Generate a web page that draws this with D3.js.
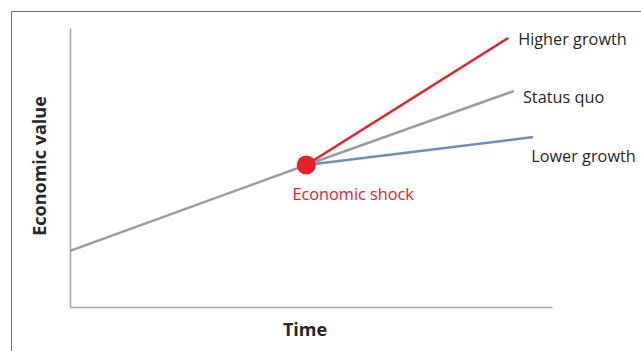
<!DOCTYPE html>
<html>
<head>
<meta charset="utf-8">
<script src="https://cdn.jsdelivr.net/npm/d3@7"></script>
<style>
  html, body { margin: 0; padding: 0; background: #fff; }
  svg { display: block; }
  text { font-family: "Open Sans", "Liberation Sans", sans-serif; }
</style>
</head>
<body>
<svg id="chart" width="641" height="351"></svg>
<script>
// Scenario paths: [time, economic value] on a 0–100 schematic scale
const statusQuo   = [[0, 20.1], [49, 50.9], [92.1, 77.4]];
const higherGrowth = [[49, 50.9], [90.9, 96.4]];
const lowerGrowth  = [[49, 50.9], [96.1, 60.9]];
const shockPoint   = [49, 50.9];

const seriesLabels = ["Higher growth", "Status quo", "Lower growth"];
const shockLabel   = "Economic shock";
const xTitle = "Time";
const yTitle = "Economic value";

const svg = d3.select("#chart");

// outer frame (top and left edges visible)
svg.append("path")
  .attr("d", "M11.5,351 V11.5 H641")
  .attr("fill", "none")
  .attr("stroke", "#6e6e6e")
  .attr("stroke-width", 1);

const x = d3.scaleLinear().domain([0, 100]).range([70, 552]);
const y = d3.scaleLinear().domain([0, 100]).range([307, 28]);

// axes without ticks
svg.append("g")
  .attr("transform", `translate(0,${y(0)})`)
  .call(d3.axisBottom(x).ticks(0).tickSize(0).tickSizeOuter(0))
  .call(g => g.select(".domain").attr("stroke", "#a9a9a9").attr("stroke-width", 1.6));

svg.append("g")
  .attr("transform", `translate(${x(0)},0)`)
  .call(d3.axisLeft(y).ticks(0).tickSize(0).tickSizeOuter(0))
  .call(g => g.select(".domain").attr("stroke", "#a9a9a9").attr("stroke-width", 1.6));

const line = d3.line().x(d => x(d[0])).y(d => y(d[1]));

svg.append("path").datum(statusQuo)
  .attr("d", line).attr("fill", "none")
  .attr("stroke", "#9b9b9b").attr("stroke-width", 2.5);

svg.append("path").datum(lowerGrowth)
  .attr("d", line).attr("fill", "none")
  .attr("stroke", "#6c8ebf").attr("stroke-width", 2.5);

svg.append("path").datum(higherGrowth)
  .attr("d", line).attr("fill", "none")
  .attr("stroke", "#ee1c25").attr("stroke-width", 2.5);

svg.append("circle")
  .attr("cx", x(shockPoint[0])).attr("cy", y(shockPoint[1]))
  .attr("r", 9.5).attr("fill", "#e8202a");

// series labels at line ends
const ends = [higherGrowth[1], statusQuo[2], lowerGrowth[1]];
const offsets = [[10, 7], [9, 12], [-2, 25]];
svg.selectAll(".series-label")
  .data(seriesLabels)
  .join("text")
  .attr("class", "series-label")
  .attr("x", (d, i) => x(ends[i][0]) + offsets[i][0])
  .attr("y", (d, i) => y(ends[i][1]) + offsets[i][1])
  .attr("font-size", 16.3)
  .attr("fill", "#262626")
  .text(d => d);

svg.append("text")
  .attr("x", x(shockPoint[0]) + 47)
  .attr("y", y(shockPoint[1]) + 35)
  .attr("text-anchor", "middle")
  .attr("font-size", 16.3)
  .attr("fill", "#e8202a")
  .text(shockLabel);

svg.append("text")
  .attr("x", 305)
  .attr("y", 336)
  .attr("text-anchor", "middle")
  .attr("font-size", 18)
  .attr("font-weight", "bold")
  .attr("fill", "#262626")
  .text(xTitle);

svg.append("text")
  .attr("transform", "translate(46,166) rotate(-90)")
  .attr("text-anchor", "middle")
  .attr("font-size", 18)
  .attr("font-weight", "bold")
  .attr("fill", "#262626")
  .text(yTitle);
</script>
</body>
</html>
